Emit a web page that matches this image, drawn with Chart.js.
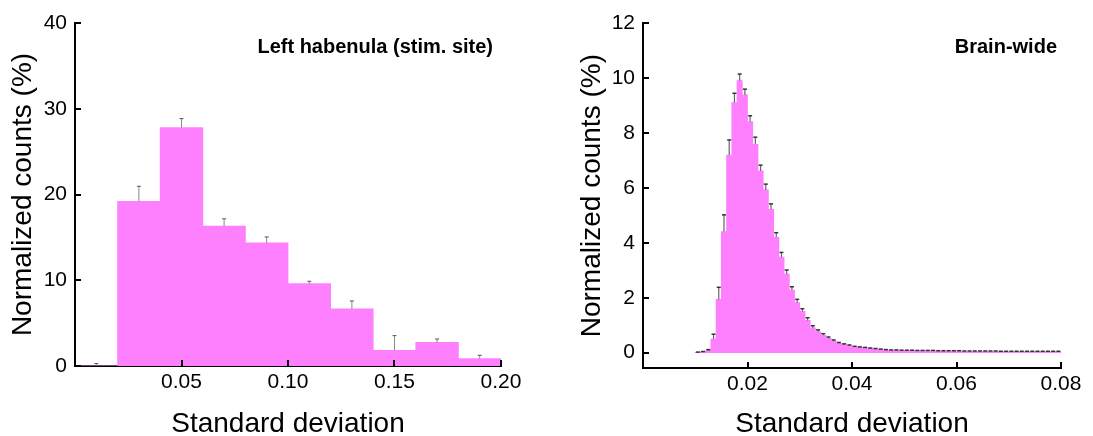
<!DOCTYPE html>
<html><head><meta charset="utf-8">
<script src="https://cdn.jsdelivr.net/npm/chart.js@4.4.1/dist/chart.umd.min.js"></script>
<style>
html,body{margin:0;padding:0;background:#fff;}
#wrap{position:relative;width:1093px;height:436px;overflow:hidden;}
.c{position:absolute;top:0;height:436px;}
#c1{left:0;width:546px;}
#c2{left:546px;width:547px;}
</style></head><body>
<div id="wrap"><div class="c" id="c1"><canvas id="left"></canvas></div><div class="c" id="c2"><canvas id="right"></canvas></div></div>
<script>
// ---- Left panel data ----
const leftLabel = 'Left habenula (stim. site)';
const leftBinCenters = [0.01,0.03,0.05,0.07,0.09,0.11,0.13,0.15,0.17,0.19];
const leftCounts = [0,19.2,27.8,16.3,14.35,9.6,6.65,1.83,2.76,0.86];
const leftErrors = [0.28,1.76,1.05,0.86,0.7,0.28,0.93,1.71,0.39,0.39];
const leftXTicks = [0.05,0.10,0.15,0.20];
const leftYTicks = [0,10,20,30,40];

// ---- Right panel data ----
const rightLabel = 'Brain-wide';
const rightBinCenters = [
0.0105,0.0115,0.0125,0.0135,0.0145,0.0155,0.0165,0.0175,0.0185,0.0195,
0.0205,0.0215,0.0225,0.0235,0.0245,0.0255,0.0265,0.0275,0.0285,0.0295,
0.0305,0.0315,0.0325,0.0335,0.0345,0.0355,0.0365,0.0375,0.0385,0.0395,
0.0405,0.0415,0.0425,0.0435,0.0445,0.0455,0.0465,0.0475,0.0485,0.0495,
0.0505,0.0515,0.0525,0.0535,0.0545,0.0555,0.0565,0.0575,0.0585,0.0595,
0.0605,0.0615,0.0625,0.0635,0.0645,0.0655,0.0665,0.0675,0.0685,0.0695,
0.0705,0.0715,0.0725,0.0735,0.0745,0.0755,0.0765,0.0775,0.0785,0.0795];
const rightCounts = [
0.01,0.03,0.08,0.49,1.94,4.41,7.20,9.11,9.91,9.39,
8.42,7.59,6.62,5.93,5.22,4.20,3.48,2.86,2.28,1.82,
1.50,1.17,0.90,0.76,0.63,0.52,0.42,0.34,0.29,0.25,
0.21,0.19,0.17,0.15,0.13,0.11,0.09,0.08,0.08,0.07,
0.07,0.07,0.06,0.06,0.06,0.06,0.05,0.05,0.05,0.05,
0.05,0.04,0.04,0.04,0.04,0.04,0.04,0.04,0.03,0.03,
0.03,0.03,0.03,0.03,0.03,0.03,0.03,0.03,0.03,0.03];
const rightErrors = [
0.01,0.01,0.03,0.18,0.44,0.61,0.55,0.34,0.24,0.21,
0.21,0.26,0.21,0.21,0.20,0.17,0.17,0.15,0.12,0.12,
0.10,0.10,0.08,0.07,0.06,0.05,0.04,0.03,0.03,0.03,
0.02,0.02,0.02,0.02,0.02,0.02,0.02,0.02,0.02,0.02,
0.02,0.02,0.02,0.02,0.02,0.02,0.02,0.02,0.02,0.02,
0.02,0.02,0.02,0.02,0.02,0.02,0.02,0.02,0.02,0.02,
0.02,0.02,0.02,0.02,0.02,0.02,0.02,0.02,0.02,0.02];
const rightXTicks = [0.02,0.04,0.06,0.08];
const rightYTicks = [0,2,4,6,8,10,12];

const FONT = '"Liberation Sans", Arial, Helvetica, sans-serif';
const PINK = '#ff80ff';

function errorBarPlugin(errors, opts) {
  return {
    id: 'errbars',
    afterDatasetsDraw(chart) {
      const ctx = chart.ctx, xs = chart.scales.x, ys = chart.scales.y;
      const ds = chart.data.datasets[0];
      ctx.save();
      ds.data.forEach((p, i) => {
        const x = xs.getPixelForValue(p.x);
        const y0 = ys.getPixelForValue(p.y);
        const y1 = ys.getPixelForValue(p.y + errors[i]);
        ctx.strokeStyle = opts.color; ctx.lineWidth = opts.width;
        ctx.beginPath(); ctx.moveTo(x, y0); ctx.lineTo(x, y1); ctx.stroke();
        ctx.strokeStyle = opts.capColor; ctx.lineWidth = opts.capWidth;
        ctx.beginPath(); ctx.moveTo(x - opts.cap, y1); ctx.lineTo(x + opts.cap, y1); ctx.stroke();
      });
      ctx.restore();
    }
  };
}

function innerTicksPlugin(len) {
  return {
    id: 'innerTicks',
    afterDraw(chart) {
      const ctx = chart.ctx, a = chart.chartArea;
      ctx.save();
      ctx.strokeStyle = '#000'; ctx.lineWidth = 2;
      chart.scales.x.ticks.forEach(t => {
        const px = Math.round(chart.scales.x.getPixelForValue(t.value));
        ctx.beginPath(); ctx.moveTo(px, a.bottom); ctx.lineTo(px, a.bottom - len); ctx.stroke();
      });
      chart.scales.y.ticks.forEach(t => {
        const py = Math.round(chart.scales.y.getPixelForValue(t.value));
        ctx.beginPath(); ctx.moveTo(a.left, py); ctx.lineTo(a.left + len, py); ctx.stroke();
      });
      ctx.restore();
    }
  };
}

function labelPlugin(text, rightX, y) {
  return {
    id: 'panelLabel',
    afterDraw(chart) {
      const ctx = chart.ctx;
      ctx.save();
      ctx.font = 'bold 20px ' + FONT;
      ctx.fillStyle = '#000';
      ctx.textAlign = 'right'; ctx.textBaseline = 'middle';
      ctx.fillText(text, rightX, y);
      ctx.restore();
    }
  };
}

function makeChart(canvasId, cfg) {
  const data = cfg.centers.map((c, i) => ({x: c, y: cfg.counts[i]}));
  return new Chart(document.getElementById(canvasId), {
    type: 'bar',
    data: { datasets: [{ data, backgroundColor: PINK, borderWidth: 0, barPercentage: 1, categoryPercentage: 1, inflateAmount: 0.4 }] },
    options: {
      responsive: true, maintainAspectRatio: false, animation: false, devicePixelRatio: 1,
      layout: { padding: cfg.padding },
      plugins: { legend: {display: false}, tooltip: {enabled: false} },
      scales: {
        x: {
          type: 'linear', offset: false, min: cfg.xMin, max: cfg.xMax,
          grid: { display: false, drawTicks: false, offset: false },
          border: { display: true, color: '#000', width: 2 },
          afterBuildTicks: s => { s.ticks = cfg.xTicks.map(v => ({value: v})); },
          afterFit: s => { s.height = cfg.xHeight; },
          ticks: { color: '#000', padding: 4, font: {family: FONT, size: 21}, maxRotation: 0, autoSkip: false,
                   callback: v => Number(v).toFixed(2) },
          title: { display: true, text: 'Standard deviation', color: '#000',
                   font: {family: FONT, size: 28, lineHeight: 0.86}, padding: {top: 0, bottom: 0} }
        },
        y: {
          min: cfg.yMin, max: cfg.yMax,
          grid: { display: false, drawTicks: false },
          border: { display: true, color: '#000', width: 2 },
          afterBuildTicks: s => { s.ticks = cfg.yTicks.map(v => ({value: v})); },
          afterFit: s => { s.width = cfg.yWidth; },
          ticks: { color: '#000', padding: 8, font: {family: FONT, size: 21}, autoSkip: false,
                   callback: v => String(v) },
          title: { display: true, text: 'Normalized counts (%)', color: '#000',
                   font: {family: FONT, size: 28, lineHeight: 1.2}, padding: {top: cfg.yTitlePad, bottom: 0} }
        }
      }
    },
    plugins: [errorBarPlugin(cfg.errors, cfg.err), innerTicksPlugin(6), labelPlugin(cfg.label, cfg.labelX, 47)]
  });
}

makeChart('left', {
  centers: leftBinCenters, counts: leftCounts, errors: leftErrors,
  xTicks: leftXTicks, yTicks: leftYTicks, xMin: 0, xMax: 0.2, yMin: 0, yMax: 40,
  padding: {top: 23, right: 45, bottom: 0, left: 0}, xHeight: 70, yWidth: 75, yTitlePad: 6.7,
  label: leftLabel, labelX: 493,
  err: {color: '#888', width: 1, capColor: '#555', capWidth: 1, cap: 2}
});
makeChart('right', {
  centers: rightBinCenters, counts: rightCounts, errors: rightErrors,
  xTicks: rightXTicks, yTicks: rightYTicks, xMin: 0, xMax: 0.08, yMin: -0.56, yMax: 12,
  padding: {top: 23.3, right: 32, bottom: 0, left: 0}, xHeight: 68, yWidth: 97, yTitlePad: 29.2,
  label: rightLabel, labelX: 511,
  err: {color: '#666', width: 1.2, capColor: '#333', capWidth: 1.5, cap: 2}
});
</script>
</body></html>
